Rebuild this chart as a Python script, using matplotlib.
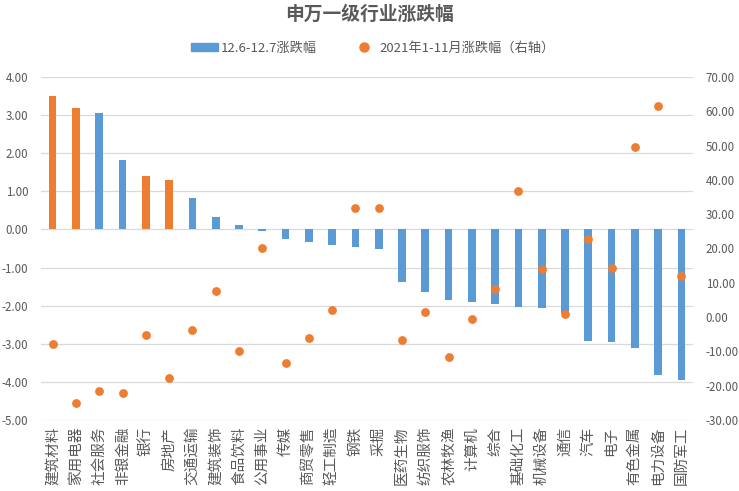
import matplotlib.pyplot as plt
import numpy as np
from matplotlib.patches import Patch
from matplotlib.lines import Line2D

plt.rcParams['font.family'] = ['Noto Sans CJK SC', 'DejaVu Sans']
plt.rcParams['axes.unicode_minus'] = False

# 数据
industries = ['建筑材料', '家用电器', '社会服务', '非银金融', '银行', '房地产', '交通运输',
              '建筑装饰', '食品饮料', '公用事业', '传媒', '商贸零售', '轻工制造', '钢铁',
              '采掘', '医药生物', '纺织服饰', '农林牧渔', '计算机', '综合', '基础化工',
              '机械设备', '通信', '汽车', '电子', '有色金属', '电力设备', '国防军工']
week_chg = [3.50, 3.19, 3.06, 1.81, 1.39, 1.29, 0.82, 0.32, 0.12, -0.03, -0.25, -0.33,
            -0.41, -0.46, -0.51, -1.37, -1.63, -1.84, -1.90, -1.95, -2.03, -2.05, -2.20,
            -2.92, -2.95, -3.10, -3.83, -3.94]
ytd_chg = [-7.9, -25.1, -21.6, -22.2, -5.3, -17.8, -3.9, 7.5, -10.0, 20.1, -13.5, -6.2,
           2.0, 31.7, 31.7, -6.8, 1.4, -11.7, -0.6, 8.1, 36.7, 13.9, 0.8, 22.7, 14.2,
           49.5, 61.5, 11.9]
highlight = ['建筑材料', '家用电器', '银行', '房地产']

blue = '#5B9BD5'
orange = '#ED7D31'
gray = '#595959'

fig = plt.figure(figsize=(7.39, 4.91), dpi=100)
ax = fig.add_axes([0.0555, 0.1446, 0.8823, 0.6986])
ax2 = ax.twinx()

x = np.arange(len(industries))
colors = [orange if n in highlight else blue for n in industries]
ax.bar(x, week_chg, width=0.33, color=colors, zorder=2)
ax2.scatter(x, ytd_chg, s=40, color=orange, zorder=3, linewidths=0)

ax.set_xlim(-0.5, len(industries) - 0.5)
ax.set_ylim(-5, 4)
ax.set_yticks(np.arange(-5, 5, 1))
ax.set_yticklabels(['%.2f' % v for v in np.arange(-5, 5, 1)])
ax2.set_ylim(-30, 70)
ax2.set_yticks(np.arange(-30, 80, 10))
ax2.set_yticklabels(['%.2f' % v for v in np.arange(-30, 80, 10)])

ax.set_xticks(x)
ax.set_xticklabels(industries, rotation=90, fontsize=10.5, color=gray)
ax.grid(axis='y', color='#D9D9D9', linewidth=0.9, zorder=0)
ax.set_axisbelow(True)

for a in (ax, ax2):
    for s in a.spines.values():
        s.set_visible(False)
    a.tick_params(length=0, labelsize=8.3, colors=gray)
ax.tick_params(axis='y', pad=9)
ax2.tick_params(axis='y', pad=9)
ax.tick_params(axis='x', pad=5, labelsize=10.5)

# 图例
handles = [Patch(color=blue, label='12.6-12.7涨跌幅'),
           Line2D([], [], marker='o', linestyle='none', color=orange, markersize=6.5,
                  label='2021年1-11月涨跌幅（右轴）')]
fig.legend(handles=handles, loc='center', bbox_to_anchor=(0.505, 0.902), ncol=2, frameon=False,
           fontsize=9.5, labelcolor=gray, handlelength=2.0, handleheight=0.5,
           columnspacing=2.6, handletextpad=0.2)

fig.suptitle('申万一级行业涨跌幅', x=0.5, y=0.99, fontsize=13.5, fontweight='bold', color=gray)

plt.savefig('out.png', dpi=100)
